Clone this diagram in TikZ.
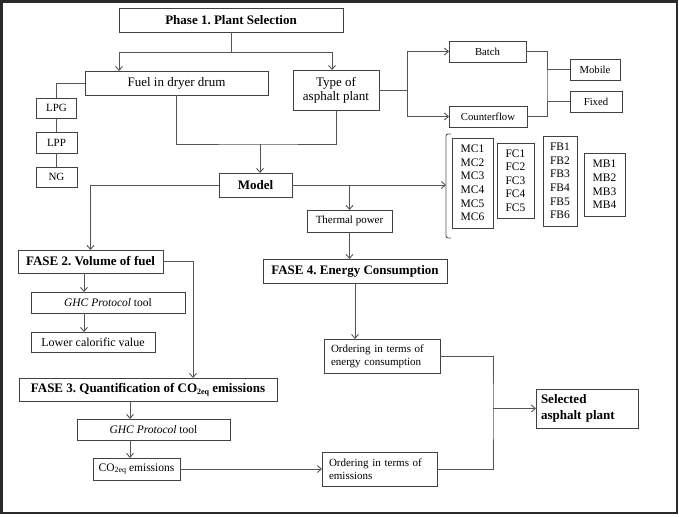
\documentclass[tikz,border=0pt]{standalone}
\usepackage{fontspec}
\setmainfont{Liberation Serif}
\usetikzlibrary{arrows.meta,calc}
\definecolor{boxc}{HTML}{404040}
\definecolor{linec}{HTML}{555555}
\definecolor{framec}{HTML}{2A2A2A}
\newcommand{\mysubsc}[1]{\raisebox{-0.35ex}{\fontsize{8}{8}\selectfont #1}}
\frenchspacing
\tikzset{
  bx/.style={draw=boxc, line width=0.9pt, inner sep=0pt, outer sep=0pt, align=center,
    font=\fontsize{12}{14}\selectfont},
  hb/.style={bx, font=\bfseries\fontsize{13}{15}\selectfont},
  ln/.style={draw=linec, line width=0.9pt},
  arr/.style={ln, -{Straight Barb[length=4pt,width=7pt]}},
}
\begin{document}
\begin{tikzpicture}[x=1pt,y=-1pt]
\useasboundingbox (0,0) rectangle (679,516);
\draw[draw=framec, line width=2.4pt] (1.5,1.5) rectangle (677,513);

% Phase 1
\node[hb, minimum width=224pt, minimum height=24pt] (p1) at (231,20) {Phase 1. Plant Selection};
\node[bx, font=\fontsize{13}{15}\selectfont, minimum width=183pt, minimum height=24pt] (fuel) at (176.5,83) {Fuel in dryer drum};
\node[bx, font=\fontsize{13}{14}\selectfont, minimum width=86pt, minimum height=40pt] (type) at (336,90) {Type of\\asphalt plant};
\node[bx, font=\fontsize{11}{13}\selectfont, minimum width=40pt, minimum height=20pt] (lpg) at (56.5,108) {LPG};
\node[bx, font=\fontsize{11}{13}\selectfont, minimum width=41pt, minimum height=21pt] (lpp) at (56.5,142.5) {LPP};
\node[bx, font=\fontsize{11}{13}\selectfont, minimum width=41pt, minimum height=20pt] (ng) at (56.5,177) {NG};
\node[hb, minimum width=73pt, minimum height=24pt] (model) at (255.5,185) {Model};

\node[bx, font=\fontsize{10.7}{13}\selectfont, minimum width=77pt, minimum height=21pt] (batch) at (487.5,51.5) {Batch};
\node[bx, font=\fontsize{10.7}{13}\selectfont, minimum width=78pt, minimum height=21pt] (counter) at (488,116.5) {Counterflow};
\node[bx, font=\fontsize{10.7}{13}\selectfont, minimum width=50pt, minimum height=21pt] (mobile) at (595,69.5) {Mobile};
\node[bx, font=\fontsize{10.7}{13}\selectfont, minimum width=52pt, minimum height=21pt] (fixed) at (596,101.5) {Fixed};

\node[bx, font=\fontsize{11}{13}\selectfont, minimum width=85pt, minimum height=22pt] (thermal) at (349.5,221) {Thermal power};
\node[hb, minimum width=184pt, minimum height=24pt] (fase4) at (355,271) {FASE 4. Energy Consumption};

\node[bx, align=left, font=\fontsize{11.5}{13.6}\selectfont, minimum width=41pt, minimum height=90pt] (mc) at (472.5,183) {MC1\\MC2\\MC3\\MC4\\MC5\\MC6};
\node[bx, align=left, font=\fontsize{11.5}{13.6}\selectfont, minimum width=37pt, minimum height=75pt] (fc) at (515.5,180.5) {FC1\\FC2\\FC3\\FC4\\FC5};
\node[bx, align=left, font=\fontsize{11.5}{13.6}\selectfont, minimum width=34pt, minimum height=90pt] (fb) at (560,181) {FB1\\FB2\\FB3\\FB4\\FB5\\FB6};
\node[bx, align=left, font=\fontsize{11.5}{13.6}\selectfont, minimum width=41pt, minimum height=63pt] (mb) at (604.5,184.5) {MB1\\MB2\\MB3\\MB4};

\node[hb, minimum width=145pt, minimum height=23pt] (fase2) at (90.5,261.5) {FASE 2. Volume of fuel};
\node[bx, font=\fontsize{11.5}{13}\selectfont, minimum width=154pt, minimum height=21pt] (ghc1) at (108,302.5) {\textit{GHC Protocol} tool};
\node[bx, font=\fontsize{12}{14}\selectfont, minimum width=124pt, minimum height=20pt] (lower) at (93,342) {Lower calorific value};

\node[hb, minimum width=258pt, minimum height=23pt] (fase3) at (148,389.5) {FASE 3. Quantification of CO\mysubsc{2eq} emissions};
\node[bx, font=\fontsize{11.5}{13}\selectfont, minimum width=153pt, minimum height=21pt] (ghc2) at (153.5,429.5) {\textit{GHC Protocol} tool};
\node[bx, font=\fontsize{11.5}{13}\selectfont, minimum width=87pt, minimum height=22pt] (co2) at (136.5,469) {CO\mysubsc{2eq} emissions};

\node[bx, align=left, text width=102pt, font=\fontsize{11}{13.3}\selectfont, minimum width=116pt, minimum height=34pt] (orde) at (382,356) {Ordering in terms of\\energy consumption};
\node[bx, align=left, text width=101pt, font=\fontsize{11}{13.3}\selectfont, minimum width=115pt, minimum height=34pt] (ordm) at (379.5,469) {Ordering in terms of\\emissions};
\node[hb, align=left, text width=92pt, font=\bfseries\fontsize{13}{16}\selectfont, minimum width=102pt, minimum height=39pt] (sel) at (587,408.5) {Selected\\asphalt plant};

% connectors
\coordinate (j1) at (231,52);
\draw[ln] (p1.south) -- (j1);
\draw[arr] (j1) -| ($(fuel.north west)+(34,0)$);
\draw[arr] (j1) -| ($(type.north)+(-4,0)$);

\draw[ln] (fuel.west) -| (lpg.north);
\draw[ln] (lpg.south) -- (lpp.north);
\draw[ln] (lpp.south) -- (ng.north);

\coordinate (j2) at (260,144);
\draw[ln] (fuel.south) |- (j2) -| (type.south);
\draw[arr] (j2) -- (j2 |- model.north);

\draw[arr] (model.west) -| (fase2.north);
\coordinate (br) at (446,185);
\draw[arr] (model.east) -- (br);
\draw[arr] (thermal.north |- model.east) -- (thermal.north);
\draw[ln, rounded corners=2pt] (451,134) -- (446,134) -- (446,238) -- (451,238);

\draw[arr] (thermal.south) -- (thermal.south |- fase4.north);
\draw[arr] (fase4.south) -- (fase4.south |- orde.north);

\coordinate (j3) at (407,90);
\draw[ln] (type.east) -- (j3);
\draw[arr] (j3) |- (batch.west);
\draw[arr] (j3) |- (counter.west);
\coordinate (j4) at (547,86);
\draw[ln] (batch.east) -| (j4) |- (counter.east);
\draw[ln] (mobile.west) -- (mobile.west -| j4);
\draw[ln] (fixed.west) -- (fixed.west -| j4);

\draw[arr] (fase2.east) -| ($(fase3.north west)+(174,0)$);
\coordinate (k1) at ($(fase2.south west)+(66,0)$);
\draw[arr] (k1) -- (k1 |- ghc1.north);
\draw[arr] (k1 |- ghc1.south) -- (k1 |- lower.north);

\coordinate (k2) at ($(fase3.south west)+(111,0)$);
\draw[arr] (k2) -- (k2 |- ghc2.north);
\draw[arr] (k2 |- ghc2.south) -- (k2 |- co2.north);
\draw[arr] (co2.east) -- (co2.east -| ordm.west);

\coordinate (j5) at (493,410);
\draw[ln] (orde.east) -| (j5) |- (ordm.east);
\draw[arr] (sel.west -| j5) -- (sel.west);
\end{tikzpicture}
\end{document}
